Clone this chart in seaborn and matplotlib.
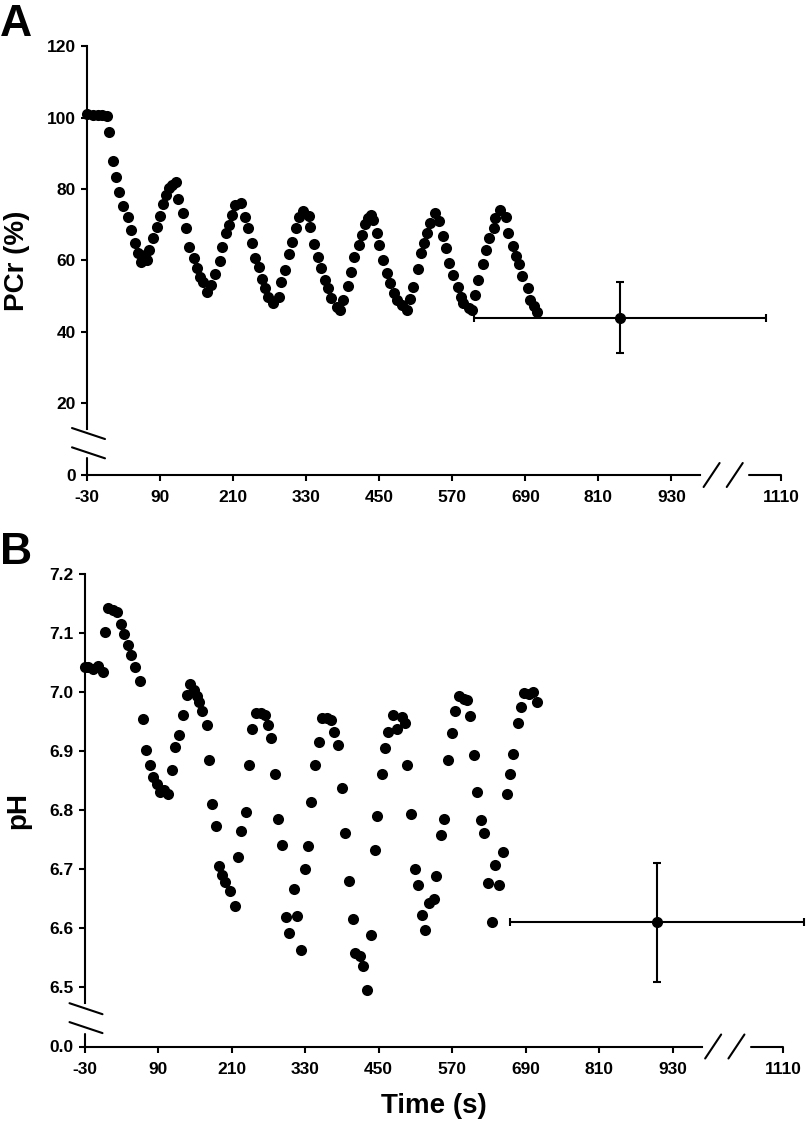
import matplotlib
matplotlib.use("Agg")
import matplotlib.pyplot as plt
import seaborn as sns

# ---- values ----
x_ticks = [-30, 90, 210, 330, 450, 570, 690, 810, 930, 1110]

# panel A: PCr (% of rest) during the exercise bouts
pcr_time = [-30, -20, -12, -5, 3, 6, 13, 18, 23, 29, 37, 42, 49, 53, 59, 65, 68, 72, 78, 85,
            90, 95, 100, 104, 109, 116, 120, 127, 133, 138, 145, 150, 155, 160, 167, 174, 181, 188, 192, 199,
            204, 208, 213, 223, 229, 235, 241, 246, 253, 257, 263, 268, 276, 285, 289, 296, 301, 307, 314, 318,
            325, 334, 337, 343, 350, 355, 361, 366, 371, 381, 385, 391, 398, 403, 409, 416, 421, 426, 431, 436,
            440, 447, 450, 457, 463, 468, 475, 480, 488, 495, 501, 506, 513, 518, 523, 529, 533, 542, 549, 554,
            559, 565, 572, 579, 584, 588, 597, 603, 607, 613, 620, 626, 631, 638, 641, 648, 658, 662, 669, 674,
            679, 685, 694, 697, 704, 710]
pcr = [101.0, 100.7, 100.7, 100.7, 100.4, 95.9, 87.8, 83.4, 79.2, 75.2, 72.2, 68.5, 64.9, 62.2, 59.5, 61.5, 60.1, 62.9, 66.4, 69.3,
       72.5, 75.8, 78.3, 80.2, 81.1, 82.0, 77.1, 73.4, 69.2, 63.9, 60.8, 57.8, 55.5, 54.1, 51.3, 53.1, 56.2, 59.9, 63.9, 67.6,
       69.9, 72.7, 75.5, 76.0, 72.3, 69.2, 65.0, 60.6, 58.1, 54.7, 52.2, 49.9, 48.0, 49.9, 54.1, 57.3, 61.8, 65.3, 69.0, 72.1,
       73.9, 72.4, 69.4, 64.6, 61.0, 57.9, 54.5, 52.3, 49.5, 47.0, 46.2, 49.0, 52.9, 56.8, 61.0, 64.3, 67.1, 70.2, 71.9, 72.7,
       71.3, 67.7, 64.3, 60.1, 56.5, 53.7, 50.9, 49.0, 47.6, 46.2, 49.2, 52.6, 57.6, 62.1, 64.9, 67.7, 70.5, 73.3, 71.0, 66.9,
       63.5, 59.3, 55.9, 52.6, 49.8, 48.1, 46.7, 46.2, 50.3, 54.5, 59.0, 62.9, 66.3, 69.1, 71.9, 74.1, 72.2, 67.7, 64.1, 61.3,
       59.0, 55.7, 52.3, 49.0, 47.3, 45.6]
pcr_end_time, pcr_end, pcr_end_xerr, pcr_end_yerr = 845, 44, 240, 10
pcr_ticks = [0, 20, 40, 60, 80, 100, 120]

# panel B: muscle pH
ph_time = [-30, -24, -16, -8, 0, 4, 9, 16, 23, 29, 35, 41, 46, 53, 61, 65, 70, 77, 82, 88,
           93, 99, 107, 112, 118, 125, 130, 137, 142, 148, 153, 157, 161, 170, 174, 178, 185, 190, 194, 199,
           208, 215, 221, 226, 233, 239, 244, 250, 258, 265, 269, 274, 281, 286, 292, 299, 304, 312, 317, 323,
           330, 335, 340, 346, 352, 358, 365, 372, 377, 383, 390, 395, 401, 408, 412, 420, 425, 431, 437, 444,
           448, 455, 461, 466, 473, 480, 488, 493, 496, 503, 509, 514, 521, 526, 533, 540, 544, 552, 557, 564,
           570, 575, 582, 590, 594, 599, 605, 611, 617, 622, 629, 635, 640, 647, 653, 659, 665, 670, 677, 683,
           688, 695, 702, 708]
ph = [7.043, 7.043, 7.040, 7.044, 7.034, 7.102, 7.142, 7.139, 7.136, 7.116, 7.098, 7.080, 7.063, 7.042, 7.019, 6.954, 6.902, 6.876, 6.856, 6.845,
      6.831, 6.834, 6.828, 6.868, 6.907, 6.927, 6.961, 6.995, 7.014, 7.003, 6.993, 6.984, 6.968, 6.944, 6.885, 6.810, 6.773, 6.705, 6.690, 6.678,
      6.664, 6.638, 6.721, 6.765, 6.797, 6.877, 6.937, 6.964, 6.965, 6.961, 6.944, 6.922, 6.861, 6.786, 6.742, 6.620, 6.592, 6.667, 6.621, 6.564,
      6.701, 6.739, 6.814, 6.877, 6.916, 6.957, 6.957, 6.953, 6.933, 6.911, 6.838, 6.762, 6.680, 6.616, 6.558, 6.554, 6.537, 6.496, 6.588, 6.733,
      6.790, 6.861, 6.905, 6.933, 6.961, 6.938, 6.958, 6.947, 6.876, 6.793, 6.701, 6.673, 6.622, 6.598, 6.643, 6.649, 6.688, 6.758, 6.786, 6.885,
      6.931, 6.968, 6.993, 6.988, 6.986, 6.959, 6.893, 6.831, 6.783, 6.762, 6.677, 6.611, 6.708, 6.673, 6.729, 6.827, 6.861, 6.896, 6.948, 6.974,
      6.999, 6.997, 7.001, 6.984]
ph_end_time, ph_end, ph_end_xerr, ph_end_yerr = 905, 6.61, 240, 0.10
# axis is broken: the bottom tick stands for 0.0
ph_ticks = [6.4, 6.5, 6.6, 6.7, 6.8, 6.9, 7.0, 7.1, 7.2]
ph_tick_labels = ["0.0", "6.5", "6.6", "6.7", "6.8", "6.9", "7.0", "7.1", "7.2"]

sns.set_style("ticks")
plt.rcParams['font.family'] = ['Liberation Sans', 'DejaVu Sans']
plt.rcParams['font.weight'] = 'bold'
plt.rcParams['axes.labelweight'] = 'bold'
plt.rcParams['axes.linewidth'] = 1.5
plt.rcParams['text.color'] = 'black'
plt.rcParams['axes.labelcolor'] = 'black'
plt.rcParams['axes.edgecolor'] = 'black'
plt.rcParams['xtick.color'] = 'black'
plt.rcParams['ytick.color'] = 'black'

W, H = 806, 1131
fig = plt.figure(figsize=(W / 100, H / 100), dpi=100)


def frac(left, top, right, bottom):
    return [left / W, 1 - bottom / H, (right - left) / W, (bottom - top) / H]


axA = fig.add_axes(frac(87, 46, 781, 475))
axB = fig.add_axes(frac(84.5, 574, 783, 1046.5))


def px_line(ax, x, y, x0, y0, x1, y1):
    # short stroke around a data point, offsets given in pixels
    cx, cy = ax.transData.transform((x, y))
    inv = ax.transData.inverted()
    a = inv.transform((cx + x0, cy + y0))
    b = inv.transform((cx + x1, cy + y1))
    ax.plot([a[0], b[0]], [a[1], b[1]], color='black', lw=1.5, clip_on=False)


def style_axis(ax, ybot, ytop, yticks, ylabels, gap_lo, gap_hi, slash_y):
    ax.set_xlim(-30, 1110)
    ax.set_ylim(ybot, ytop)
    ax.set_xticks(x_ticks)
    ax.set_xticklabels([str(t) for t in x_ticks])
    ax.set_yticks(yticks)
    ax.set_yticklabels(ylabels)
    ax.tick_params(direction='out', length=4, width=1.5, labelsize=12.5, colors='black')
    ax.tick_params(axis='x', pad=7)
    ax.tick_params(axis='y', pad=4)
    sns.despine(ax=ax)
    ax.spines['bottom'].set_bounds(-30, 977)
    ax.spines['left'].set_bounds(gap_hi, ytop)
    ax.plot([1058, 1110], [ybot, ybot], color='black', lw=1.5, clip_on=False)
    ax.plot([-30, -30], [ybot, gap_lo], color='black', lw=1.5, clip_on=False)
    for xs in (996, 1034):
        px_line(ax, xs, ybot, -8, -12, 8, 12)
    for ys in slash_y:
        px_line(ax, -30, ys, -15, 5.5, 18, -5.5)


def end_point(ax, x, y, xerr, yerr):
    eb = ax.errorbar(x, y, xerr=xerr, yerr=yerr, fmt='o', color='black', ms=7,
                     elinewidth=1.5, capsize=3, capthick=1.5)
    for art in eb.get_children():
        art.set_clip_on(False)


# panel A
sns.scatterplot(x=pcr_time, y=pcr, ax=axA, color='black', s=64, linewidth=0, clip_on=False)
style_axis(axA, 0, 120, pcr_ticks, [str(t) for t in pcr_ticks], 4.7, 12.8, (11.6, 6.2))
end_point(axA, pcr_end_time, pcr_end, pcr_end_xerr, pcr_end_yerr)
axA.set_ylabel("PCr (%)", fontsize=20, labelpad=12)

# panel B
sns.scatterplot(x=ph_time, y=ph, ax=axB, color='black', s=64, linewidth=0, clip_on=False)
style_axis(axB, 6.4, 7.2, ph_ticks, ph_tick_labels, 6.421, 6.474, (6.464, 6.432))
end_point(axB, ph_end_time, ph_end, ph_end_xerr, ph_end_yerr)
axB.set_ylabel("pH", fontsize=20, labelpad=13)
axB.set_xlabel("Time (s)", fontsize=20, labelpad=12)

fig.text(0.0, 1 - 4 / H, "A", fontsize=32, fontweight='bold', va='top', ha='left')
fig.text(0.0, 1 - 532 / H, "B", fontsize=32, fontweight='bold', va='top', ha='left')

fig.savefig("out.png", dpi=100)
